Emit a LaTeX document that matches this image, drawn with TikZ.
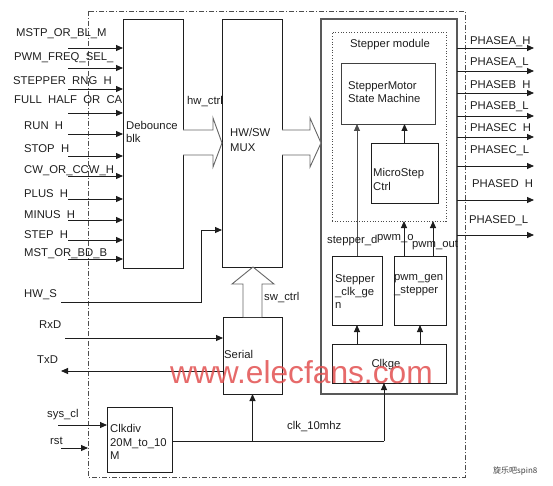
\documentclass[tikz,border=0pt]{standalone}
\usepackage{fontspec}
\setmainfont{Liberation Sans}
\newfontfamily\cjk{Noto Sans CJK SC}
\usetikzlibrary{arrows.meta,calc}
\definecolor{wmred}{RGB}{226,80,80}
\definecolor{ink}{RGB}{30,30,30}
\begin{document}
\begin{tikzpicture}[x=1pt,y=-1pt,
  font=\fontsize{11.3}{13.5}\selectfont,
  box/.style={draw=ink,line width=0.9pt,anchor=north west,inner sep=0pt,outer sep=0pt},
  arr/.style={draw=ink,line width=0.9pt,-{Triangle[length=7pt,width=6pt]}},
  ln/.style={draw=ink,line width=0.9pt},
  lbl/.style={anchor=base west,inner sep=0pt,text=ink},
  blockarrow/.style={draw=black!60,line width=0.9pt,fill=white}]
\useasboundingbox (0,0) rectangle (553,486);
% outer dash-dot frame
\draw[black!70,line width=0.8pt,dash pattern=on 5pt off 2pt on 1pt off 2pt] (88,11) rectangle (465,477);
% boxes
\node[box,minimum width=60pt,minimum height=249pt] (deb) at (123,19) {};
\node[box,minimum width=60pt,minimum height=248pt] (mux) at (222,19) {};
\node[box,minimum width=59pt,minimum height=77pt] (serial) at (223,317) {};
\node[box,minimum width=65pt,minimum height=65pt] (clkdiv) at (107,407) {};
\node[box,draw=black!65,line width=1.6pt,minimum width=136pt,minimum height=375pt] (mod) at (321,19) {};
\node[box,draw=black!70,line width=0.7pt,dotted,minimum width=114pt,minimum height=189pt] (stm) at (332,32) {};
\node[box,draw=black!75,minimum width=94pt,minimum height=61pt] (sm) at (341,63) {};
\node[box,minimum width=67pt,minimum height=60pt] (micro) at (371,143) {};
\node[box,minimum width=50pt,minimum height=69pt] (scg) at (332,256) {};
\node[box,minimum width=52pt,minimum height=69pt] (pwm) at (394,256) {};
\node[box,minimum width=114pt,minimum height=39pt] (clkge) at (332,344) {};
% block arrows
\draw[blockarrow] (deb.east |- 0,130) -- (213,130) -- (213,118) -- (mux.west |- 0,143) -- (213,167) -- (213,155) -- (deb.east |- 0,155);
\draw[blockarrow] (mux.east |- 0,130) -- (310,130) -- (310,118) -- (mod.west |- 0,143) -- (310,167) -- (310,155) -- (mux.east |- 0,155);
\draw[blockarrow] (243,317) -- (243,284) -- (232,284) -- (253,267) -- (274,284) -- (262,284) -- (262,317);
% input arrows and labels
\foreach \ya/\xl/\yb/\t [count=\i] in {
  48/16/37/{MSTP\_OR\_BL\_M},
  68/14/61/{PWM\_FREQ\_SEL\_},
  89/13/85/{STEPPER\phantom{\_}RNG\phantom{\_}H},
  113/14/104/{FULL\phantom{\_}HALF\phantom{\_}OR\phantom{\_}CA},
  134/24/130/{RUN\phantom{\_}H},
  156/24/153/{STOP\phantom{\_}H},
  176/24/174/{CW\_OR\_CCW\_H},
  199/24/197/{PLUS\phantom{\_}H},
  220/24/218/{MINUS\phantom{\_}H},
  240/24/238/{STEP\phantom{\_}H},
  259/24/256/{MST\_OR\_BD\_B}} {
  \coordinate (s\i) at (68,\ya);
  \draw[arr] (s\i) -- (s\i -| deb.west);
  \node[lbl] (il\i) at (\xl,\yb) {\t};
}
% output arrows and labels
\foreach \ya/\xl/\yb/\t [count=\i] in {
  48/470/45/{PHASEA\_H},
  71/470/66/{PHASEA\_L},
  93/470/89/{PHASEB\phantom{\_}H},
  116/470/110/{PHASEB\_L},
  137/470/132/{PHASEC\phantom{\_}H},
  166/470/154/{PHASEC\_L},
  200/472/188/{PHASED\phantom{\_}H},
  235/469/223/{PHASED\_L}} {
  \coordinate (o\i) at (534,\ya);
  \draw[arr] (o\i -| mod.east) -- (o\i);
  \node[lbl] (ol\i) at (\xl,\yb) {\t};
}
% HW_SW line
\coordinate (hws) at (61,302);
\draw[arr] (hws) -- (201,302) -- (201,230) -- (mux.west |- 0,230);
% RxD / TxD
\coordinate (rxd) at (65,338);
\draw[arr] (rxd) -- (rxd -| serial.west);
\coordinate (txd) at (61,371);
\draw[arr] (txd -| serial.west) -- (txd);
% sys_clk / rst
\coordinate (sysc) at (58,425);
\draw[arr] (sysc) -- (sysc -| clkdiv.west);
\coordinate (rsts) at (61,448);
\coordinate (rste) at (88,448);
\draw[arr] (rsts) -- (rste);
% clk_10mhz
\coordinate (cj) at (384,441);
\draw[ln] (clkdiv.east |- cj) -- (cj);
\draw[arr] (cj) -- (cj |- clkge.south);
\draw[arr] (serial.south |- cj) -- (serial.south);
% inside module
\draw[arr] (clkge.north -| scg.south) -- (scg.south);
\draw[arr] (clkge.north -| pwm.south) -- (pwm.south);
\draw[arr,draw=black!70] (scg.north) -- (scg.north |- sm.south);
\draw[arr] (micro.north) -- (micro.north |- sm.south);
\draw[arr] (pwm.north -| 404,0) -- (stm.south -| 404,0);
\draw[arr] (pwm.north -| 433,0) -- (stm.south -| 433,0);
% texts
\node[lbl] (thwctrl) at (187,105) {hw\_ctrl};
\node[lbl] (tdeb1) at (126,130) {Debounce};
\node[lbl] (tdeb2) at (126,143) {blk};
\node[lbl] (tmux1) at (230,137) {HW/SW};
\node[lbl] (tmux2) at (230,152) {MUX};
\node[lbl] (thws) at (24,297) {HW\_S};
\node[lbl] (tswctrl) at (264,300) {sw\_ctrl};
\node[lbl] (tserial) at (224,358) {Serial};
\node[lbl] (trxd) at (39,328) {RxD};
\node[lbl] (ttxd) at (37,363) {TxD};
\node[lbl] (tsys) at (47,417) {sys\_cl};
\node[lbl] (trst) at (50,444) {rst};
\node[lbl] (tcd1) at (110,432) {Clkdiv};
\node[lbl] (tcd2) at (110,446) {20M\_to\_10};
\node[lbl] (tcd3) at (110,459) {M};
\node[lbl] (tclk) at (287,429) {clk\_10mhz};
\node[lbl] (tstm) at (350,48) {Stepper module};
\node[lbl] (tsm1) at (348,90) {StepperMotor};
\node[lbl] (tsm2) at (348,103) {State Machine};
\node[lbl] (tmc1) at (373,177) {MicroStep};
\node[lbl] (tmc2) at (373,190) {Ctrl};
\node[lbl] (tsd) at (327,243) {stepper\_d};
\node[lbl] (tpo1) at (377,240) {pwm\_o};
\node[lbl] (tpo2) at (412,247) {pwm\_out};
\node[lbl] (tsc1) at (335,282) {Stepper};
\node[lbl] (tsc2) at (335,295) {\_clk\_ge};
\node[lbl] (tsc3) at (335,308) {n};
\node[lbl] (tpg1) at (394,280) {pwm\_gen};
\node[lbl] (tpg2) at (394,293) {\_stepper};
\node[anchor=base,inner sep=0pt,text=ink] (tclkge) at (386,367) {Clkge};
% watermark and signature
\node[anchor=base west,inner sep=0pt,text=wmred,opacity=0.85,font=\fontsize{31.7}{32}\selectfont] (wm) at (170,383) {www.elecfans.com};
\node[anchor=base west,inner sep=0pt,text=black!75,font=\cjk\fontsize{8}{9}\selectfont] (sig) at (493,473) {旋乐吧spin8};
\end{tikzpicture}
\end{document}
